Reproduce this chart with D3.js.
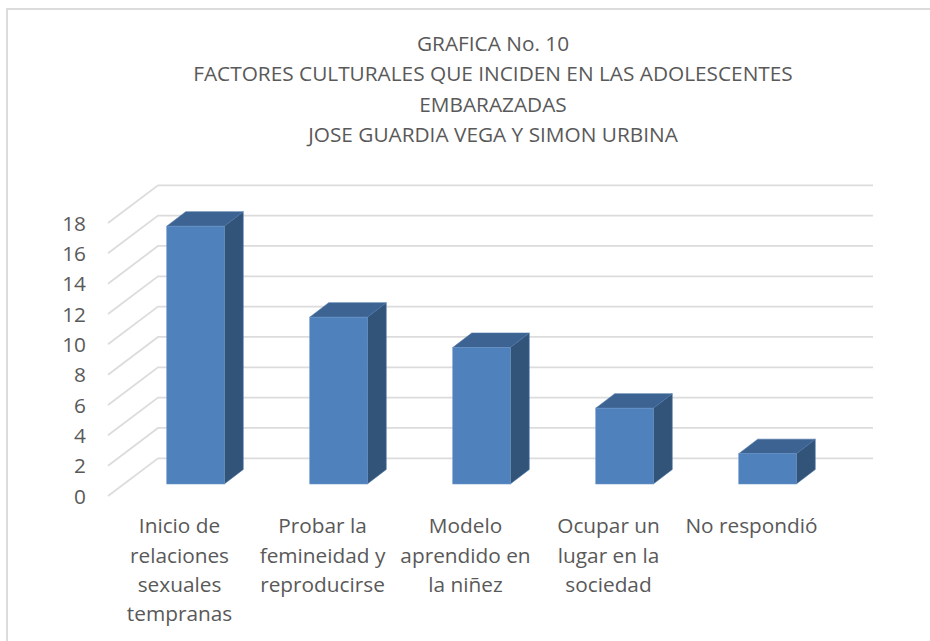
<!DOCTYPE html>
<html>
<head>
<meta charset="utf-8">
<script src="https://cdn.jsdelivr.net/npm/d3@7"></script>
<style>
html,body{margin:0;padding:0;background:#fff;}
text{font-family:"Open Sans",sans-serif;fill:#595959;}
</style>
</head>
<body>
<div id="container"></div>
<script>
// values
const titleLines=["GRAFICA No. 10","FACTORES CULTURALES QUE INCIDEN EN LAS ADOLESCENTES","EMBARAZADAS","JOSE GUARDIA VEGA Y SIMON URBINA"];
const categories=["cat0","cat1","cat2","cat3","cat4"];
const categoryLabels=[
    ["Inicio de","relaciones","sexuales","tempranas"],
    ["Probar la","femineidad y","reproducirse"],
    ["Modelo","aprendido en","la niñez"],
    ["Ocupar un","lugar en la","sociedad"],
    ["No respondió"]
];
const values=[17,11,9,5,2];
const ticks=[0,2,4,6,8,10,12,14,16,18];

const svg=d3.select('#container').append('svg').attr('width',930).attr('height',641).style('display','block');

// chart frame, only left and top show in the picture
svg.append('path').attr('d','M7,641V9H930').attr('fill','none').attr('stroke','#dcdcdc').attr('stroke-width',2);

const title=svg.append('g');
title.selectAll('text').data(titleLines).enter().append('text')
    .attr('x',493).attr('y',(d,i)=>51+i*30.3)
    .attr('text-anchor','middle').attr('font-size','20.8px').text(d=>d);

// front plane of the 3d box
let x=d3.scaleBand().domain(categories).range([108,823]);
let y=d3.scaleLinear().domain([0,18]).range([496,223]);
const wallDx=50,wallDy=-37.7;
const barDx=19,barDy=-14.5;
const barShiftX=16,barShiftY=-12;
const barWidth=57.5;

// gridlines: floor/side part then back wall part
const grid=svg.append('g');
ticks.forEach(t=>{
    let p=d3.path();
    p.moveTo(x.range()[0],y(t));
    p.lineTo(x.range()[0]+wallDx,y(t)+wallDy);
    p.lineTo(x.range()[1]+wallDx,y(t)+wallDy);
    grid.append('path').attr('d',p.toString()).attr('fill','none').attr('stroke','#dcdcdc').attr('stroke-width',1.8);
});

// tick labels
svg.append('g').selectAll('text').data(ticks).enter().append('text')
    .attr('x',86).attr('y',t=>y(t)+7.5)
    .attr('text-anchor','end').attr('font-size','20.8px').text(t=>t);

// bars
categories.forEach((c,i)=>{
    let x0=x(c)+x.bandwidth()/2+barShiftX-barWidth/2;
    let x1=x0+barWidth;
    let y0=y(0)+barShiftY;
    let yTop=y(values[i])+barShiftY;
    let g=svg.append('g');
    // side
    g.append('path').attr('d',`M${x1},${y0}L${x1+barDx},${y0+barDy}L${x1+barDx},${yTop+barDy}L${x1},${yTop}Z`)
        .attr('fill','#325479').attr('stroke','#4a74a8').attr('stroke-width',0.6);
    // top
    g.append('path').attr('d',`M${x0},${yTop}L${x0+barDx},${yTop+barDy}L${x1+barDx},${yTop+barDy}L${x1},${yTop}Z`)
        .attr('fill','#3c6391').attr('stroke','#4a74a8').attr('stroke-width',0.6);
    // front
    g.append('rect').attr('x',x0).attr('y',yTop).attr('width',barWidth).attr('height',y0-yTop)
        .attr('fill','#4f81bd').attr('stroke','#6d97c9').attr('stroke-width',0.6);
});

// category labels
categories.forEach((c,i)=>{
    svg.append('text').attr('text-anchor','middle').attr('font-size','20.8px')
        .selectAll('tspan').data(categoryLabels[i]).enter().append('tspan')
        .attr('x',x(c)+x.bandwidth()/2).attr('y',(d,j)=>533.3+j*29.3).text(d=>d);
});
</script>
</body>
</html>
